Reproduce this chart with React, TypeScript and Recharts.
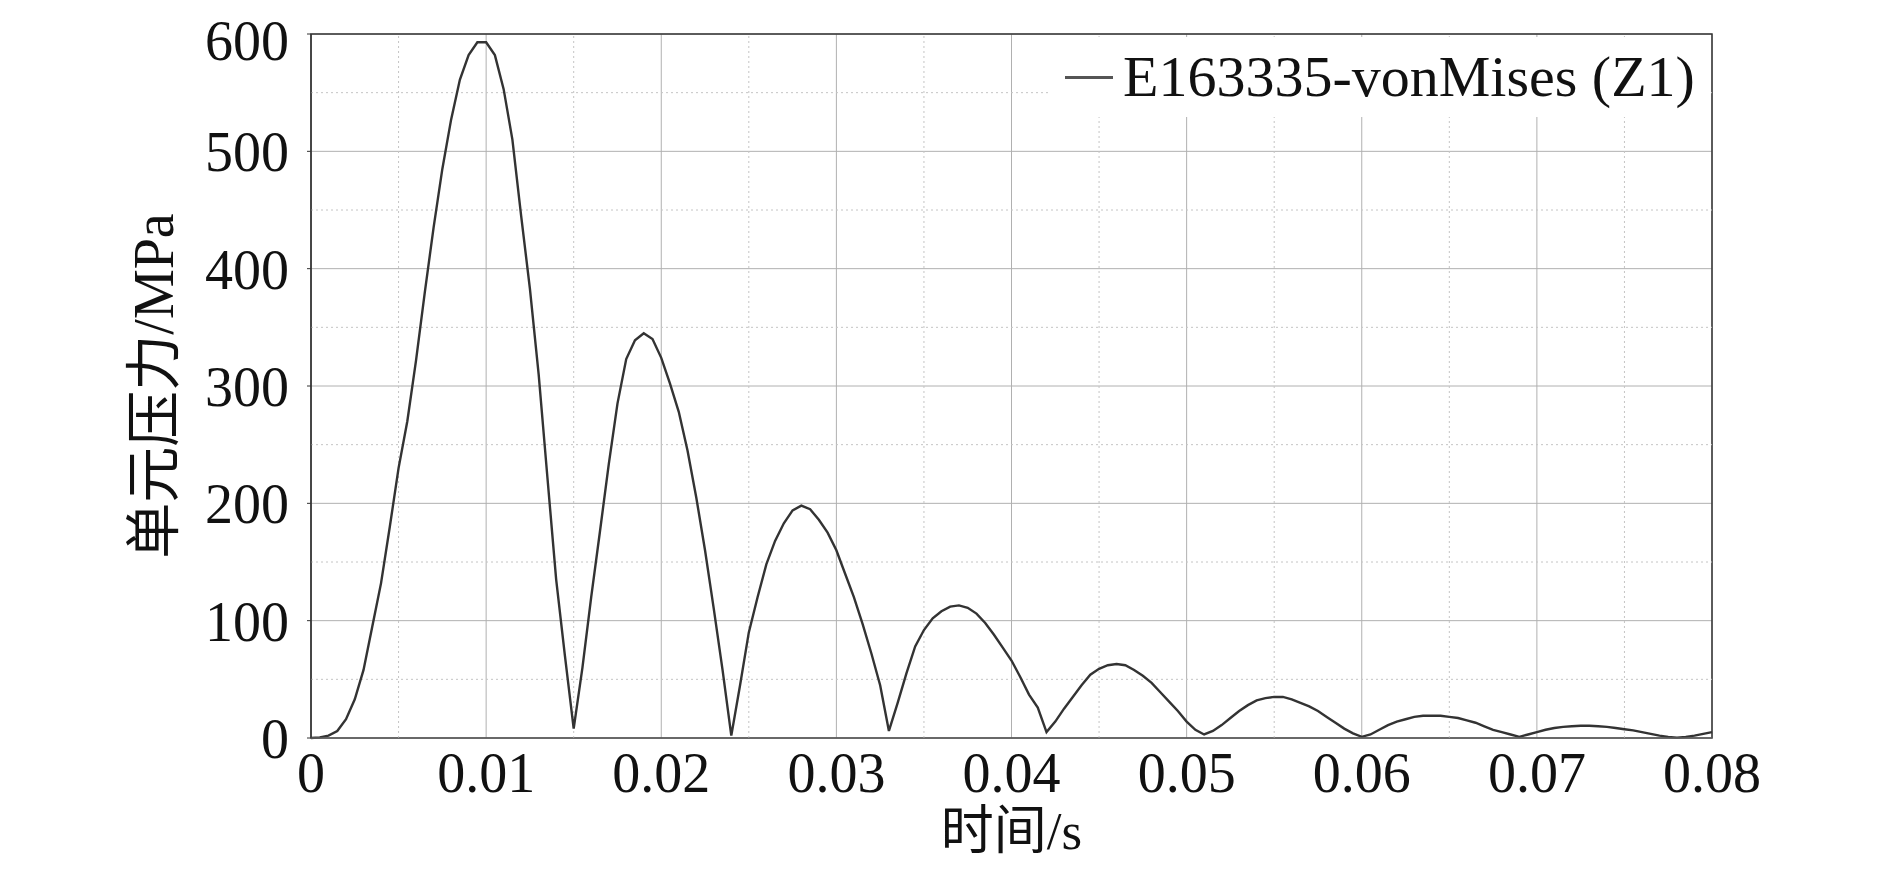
import React from 'react';
import { LineChart, Line, XAxis, YAxis, CartesianGrid, Legend, ReferenceLine, ReferenceArea, Label } from 'recharts';

// time (s) and element stress (MPa)
const time = [
  0, 0.0005, 0.001, 0.0015, 0.002, 0.0025, 0.003, 0.0035, 0.004, 0.0045,
  0.005, 0.0055, 0.006, 0.0065, 0.007, 0.0075, 0.008, 0.0085, 0.009, 0.0095,
  0.01, 0.0105, 0.011, 0.0115, 0.012, 0.0125, 0.013, 0.0135, 0.014, 0.0145,
  0.015, 0.0155, 0.016, 0.0165, 0.017, 0.0175, 0.018, 0.0185, 0.019, 0.0195,
  0.02, 0.0205, 0.021, 0.0215, 0.022, 0.0225, 0.023, 0.0235, 0.024, 0.0245,
  0.025, 0.0255, 0.026, 0.0265, 0.027, 0.0275, 0.028, 0.0285, 0.029, 0.0295,
  0.03, 0.0305, 0.031, 0.0315, 0.032, 0.0325, 0.033, 0.0335, 0.034, 0.0345,
  0.035, 0.0355, 0.036, 0.0365, 0.037, 0.0375, 0.038, 0.0385, 0.039, 0.0395,
  0.04, 0.0405, 0.041, 0.0415, 0.042, 0.0425, 0.043, 0.0435, 0.044, 0.0445,
  0.045, 0.0455, 0.046, 0.0465, 0.047, 0.0475, 0.048, 0.0485, 0.049, 0.0495,
  0.05, 0.0505, 0.051, 0.0515, 0.052, 0.0525, 0.053, 0.0535, 0.054, 0.0545,
  0.055, 0.0555, 0.056, 0.0565, 0.057, 0.0575, 0.058, 0.0585, 0.059, 0.0595,
  0.06, 0.0605, 0.061, 0.0615, 0.062, 0.0625, 0.063, 0.0635, 0.064, 0.0645,
  0.065, 0.0655, 0.066, 0.0665, 0.067, 0.0675, 0.068, 0.0685, 0.069, 0.0695,
  0.07, 0.0705, 0.071, 0.0715, 0.072, 0.0725, 0.073, 0.0735, 0.074, 0.0745,
  0.075, 0.0755, 0.076, 0.0765, 0.077, 0.0775, 0.078, 0.0785, 0.079, 0.0795,
  0.08,
];

const stress = [
  0, 0.5, 2, 6, 16, 33, 58, 95, 132, 180,
  230, 270, 322, 380, 435, 485, 527, 561, 582, 593,
  593, 582, 553, 510, 445, 383, 310, 222, 135, 70,
  8, 60, 120, 176, 233, 285, 323, 339, 345, 340,
  324, 302, 278, 245, 205, 160, 110, 58, 2, 45,
  90, 120, 148, 168, 183, 194, 198, 195, 186, 175,
  160, 140, 120, 97, 72, 45, 6, 30, 55, 78,
  92, 102, 108, 112, 113, 111, 106, 98, 88, 77,
  66, 52, 37, 26, 5, 14, 25, 35, 45, 54,
  59, 62, 63, 62, 58, 53, 47, 39, 31, 23,
  14, 7, 3, 6, 11, 17, 23, 28, 32, 34,
  35, 35, 33, 30, 27, 23, 18, 13, 8, 4,
  1, 3, 7, 11, 14, 16, 18, 19, 19, 19,
  18, 17, 15, 13, 10, 7, 5, 3, 1, 3,
  5, 7, 8.5, 9.5, 10, 10.5, 10.5, 10, 9.5, 8.5,
  7.5, 6.5, 5, 3.5, 2, 1, 0.3, 1, 2, 3.5,
  5,
];

const xTicks = [0, 0.01, 0.02, 0.03, 0.04, 0.05, 0.06, 0.07, 0.08];
const yTicks = [0, 100, 200, 300, 400, 500, 600];
const xMinor = [0.005, 0.015, 0.025, 0.035, 0.045, 0.055, 0.065, 0.075];
const yMinor = [50, 150, 250, 350, 450, 550];

const seriesName = 'E163335-vonMises (Z1)';

const data = time.map((t, i) => ({ t, v: stress[i] }));

const font = '"Liberation Serif", "Noto Sans CJK SC", serif';

function LegendBox() {
  return (
    <div
      style={{
        background: '#fff',
        display: 'flex',
        alignItems: 'center',
        height: '100%',
        paddingLeft: 17,
        fontFamily: font,
        fontSize: 58,
        color: '#111',
        lineHeight: 1,
      }}
    >
      <span style={{ display: 'inline-block', width: 48, height: 3, background: '#555', marginRight: 10 }} />
      <span>{seriesName}</span>
    </div>
  );
}

export default function App() {
  return (
    <div style={{ width: 1874, height: 853, fontFamily: font }}>
      <LineChart
        width={1874}
        height={853}
        data={data}
        margin={{ top: 26, right: 170, left: 0, bottom: 0 }}
      >
        <CartesianGrid stroke="#b0b0b0" strokeWidth={1} />
        {xMinor.map((x) => (
          <ReferenceLine key={'x' + x} x={x} stroke="#c4c4c4" strokeDasharray="2 3" />
        ))}
        {yMinor.map((y) => (
          <ReferenceLine key={'y' + y} y={y} stroke="#c4c4c4" strokeDasharray="2 3" />
        ))}
        <XAxis
          dataKey="t"
          type="number"
          domain={[0, 0.08]}
          ticks={xTicks}
          height={123}
          axisLine={{ stroke: '#777' }}
          tickLine={false}
          tickMargin={8}
          tick={{ fontSize: 56, fill: '#111', fontFamily: font }}
        >
          <Label value="时间/s" position="insideBottom" offset={12} style={{ fontSize: 53, fill: '#111', fontFamily: font }} />
        </XAxis>
        <YAxis
          type="number"
          domain={[0, 600]}
          ticks={yTicks}
          width={303}
          axisLine={{ stroke: '#333' }}
          tickLine={{ stroke: '#333' }}
          tickSize={4}
          tickMargin={18}
          tick={{ fontSize: 56, fill: '#111', fontFamily: font }}
        >
          <Label value="单元压力/MPa" angle={-90} position="center" dx={-6} style={{ fontSize: 56, fill: '#111', fontFamily: font }} />
        </YAxis>
        <ReferenceArea x1={0} x2={0.08} y1={0} y2={600} fill="none" stroke="#333" strokeWidth={1.5} />
        <Legend
          layout="horizontal"
          verticalAlign="middle"
          align="center"
          content={() => <LegendBox />}
          wrapperStyle={{ position: 'absolute', top: 29, left: 1040, width: 662, height: 80 }}
        />
        <Line
          type="linear"
          dataKey="v"
          name={seriesName}
          stroke="#333"
          strokeWidth={2.4}
          dot={false}
          isAnimationActive={false}
        />
      </LineChart>
    </div>
  );
}
